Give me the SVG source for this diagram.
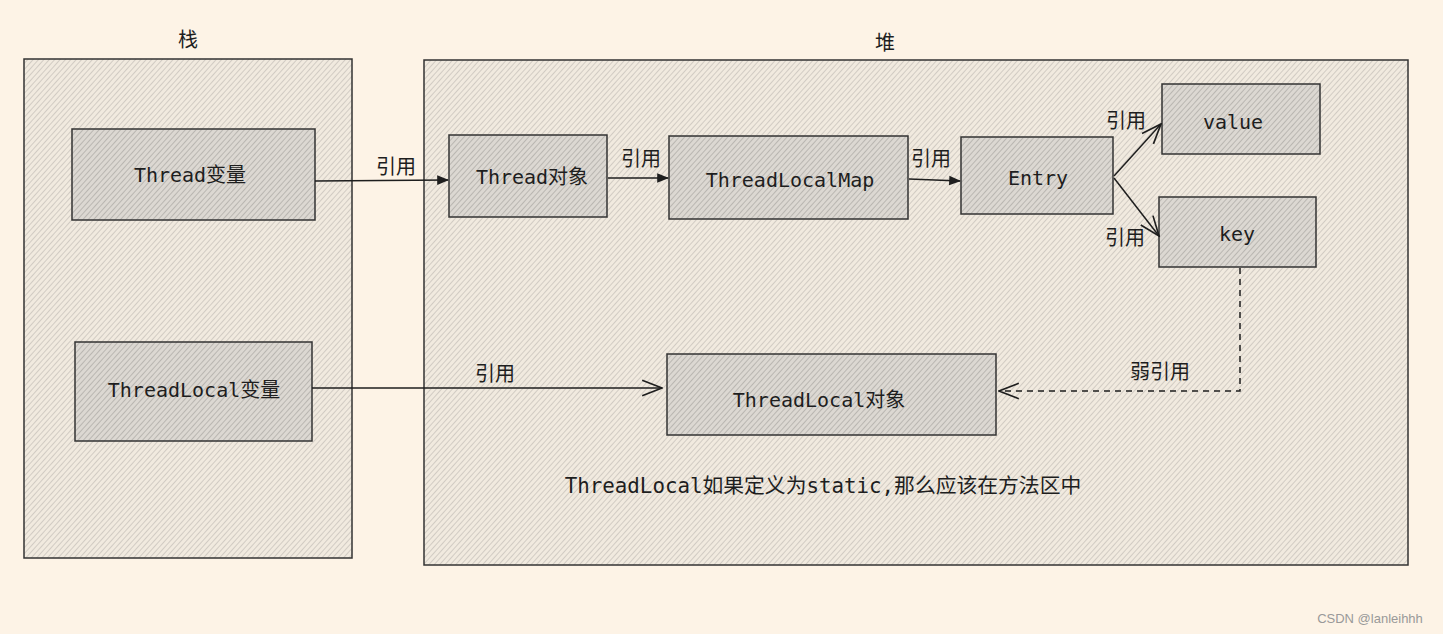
<svg xmlns="http://www.w3.org/2000/svg" width="1443" height="634" viewBox="0 0 1443 634">
<defs>
<pattern id="hatchC" width="4" height="4" patternUnits="userSpaceOnUse" patternTransform="rotate(42)">
<rect width="4" height="4" fill="#f1eadf"/>
<line x1="0" y1="0" x2="0" y2="4" stroke="#c9c4bc" stroke-width="1.6"/>
</pattern>
<pattern id="hatchB" width="4" height="4" patternUnits="userSpaceOnUse" patternTransform="rotate(42)">
<rect width="4" height="4" fill="#dcd8d2"/>
<line x1="0" y1="0" x2="0" y2="4" stroke="#b5b2ad" stroke-width="1.8"/>
</pattern>
<marker id="fill" viewBox="0 0 10 10" refX="9" refY="5" markerWidth="12" markerHeight="12" markerUnits="userSpaceOnUse" orient="auto">
<path d="M0,1 L10,5 L0,9 Z" fill="#1e1e1e"/>
</marker>
<marker id="open" viewBox="0 0 20 20" refX="19" refY="10" markerWidth="22" markerHeight="22" markerUnits="userSpaceOnUse" orient="auto">
<path d="M1,3 L19,10 L1,17" fill="none" stroke="#1e1e1e" stroke-width="1.5"/>
</marker>
</defs>
<style>
.cont{fill:url(#hatchC);stroke:#333;stroke-width:1.5}
.box{fill:url(#hatchB);stroke:#333;stroke-width:1.5}
.t{font-family:"DejaVu Sans Mono","Noto Sans CJK SC",monospace;font-size:20px;fill:#1e1e1e;text-anchor:middle;dominant-baseline:central}
.lbl{font-family:"Noto Sans CJK SC","DejaVu Sans",sans-serif;font-size:20px;fill:#1e1e1e;text-anchor:middle;dominant-baseline:central}
.ln{fill:none;stroke:#1e1e1e;stroke-width:1.5}
</style>
<rect width="1443" height="634" fill="#fdf3e6"/>
<g id="stack">
<rect class="cont" x="24" y="59" width="328" height="499"/>
<text class="lbl" x="188" y="38">栈</text>
</g>
<g id="heap">
<rect class="cont" x="424" y="60" width="984" height="505"/>
<text class="lbl" x="885" y="41">堆</text>
</g>
<g id="thread-var"><rect class="box" x="72" y="129" width="243" height="91"/><text class="t" x="190" y="175">Thread变量</text></g>
<g id="threadlocal-var"><rect class="box" x="75" y="342" width="237" height="99"/><text class="t" x="194" y="390">ThreadLocal变量</text></g>
<g id="thread-obj"><rect class="box" x="449" y="135" width="158" height="82"/><text class="t" x="532" y="177">Thread对象</text></g>
<g id="tlmap"><rect class="box" x="669" y="136" width="239" height="83"/><text class="t" x="790" y="180">ThreadLocalMap</text></g>
<g id="entry"><rect class="box" x="961" y="137" width="152" height="77"/><text class="t" x="1038" y="178">Entry</text></g>
<g id="value"><rect class="box" x="1162" y="84" width="158" height="70"/><text class="t" x="1233" y="122">value</text></g>
<g id="key"><rect class="box" x="1159" y="197" width="157" height="70"/><text class="t" x="1237" y="234">key</text></g>
<g id="tl-obj"><rect class="box" x="667" y="354" width="329" height="81"/><text class="t" x="819" y="400">ThreadLocal对象</text></g>
<g id="note"><text class="t" x="823" y="486" style="font-size:20.8px">ThreadLocal如果定义为static,那么应该在方法区中</text></g>
<g id="connectors">
<path class="ln" d="M315,181 L448,180" marker-end="url(#fill)"/>
<text class="lbl" x="396" y="165">引用</text>
<path class="ln" d="M608,178 L668,178" marker-end="url(#fill)"/>
<text class="lbl" x="641" y="157">引用</text>
<path class="ln" d="M909,179 L960,181" marker-end="url(#fill)"/>
<text class="lbl" x="931" y="157">引用</text>
<path class="ln" d="M1114,176 L1161,124" marker-end="url(#open)"/>
<text class="lbl" x="1126" y="119">引用</text>
<path class="ln" d="M1114,178 L1159,236" marker-end="url(#open)"/>
<text class="lbl" x="1125" y="236">引用</text>
<path class="ln" d="M312,388 L662,388" marker-end="url(#open)"/>
<text class="lbl" x="495" y="372">引用</text>
<path class="ln" d="M1240,268 L1240,391 L999,391" stroke-dasharray="6,5" marker-end="url(#open)"/>
<text class="lbl" x="1160" y="370">弱引用</text>
</g>
<text x="1370" y="618" font-family="Liberation Sans, Arial, sans-serif" font-size="13" fill="#999" text-anchor="middle" dominant-baseline="central">CSDN @lanleihhh</text>
</svg>
